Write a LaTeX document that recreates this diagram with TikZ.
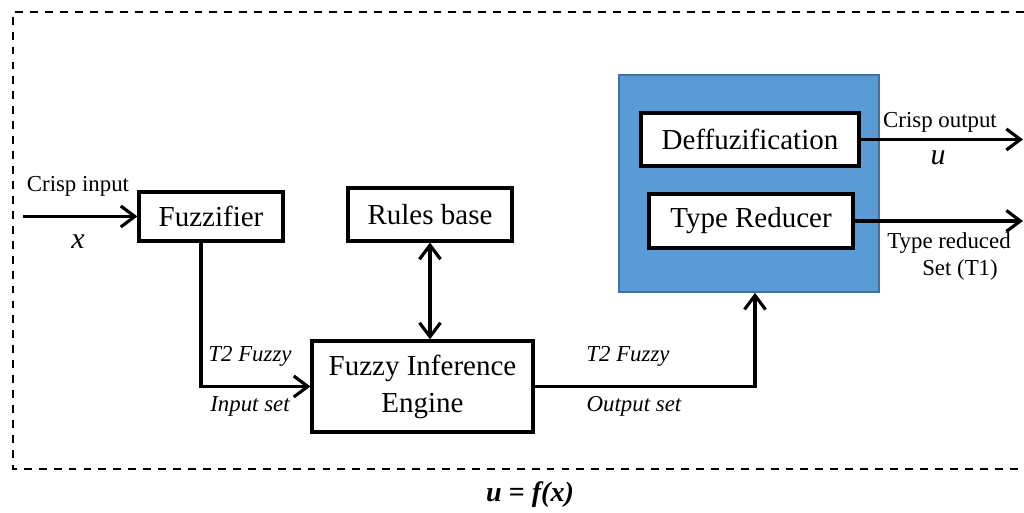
\documentclass[tikz,border=0pt]{standalone}
\usepackage{fontspec}
\setmainfont{Liberation Serif}
\usepackage{tikz}
\usepackage{color}
\usetikzlibrary{arrows.meta}

\begin{document}
\begin{tikzpicture}[
  blk/.style={draw=black,fill=white,line width=1.8pt,minimum width=#1,inner sep=2pt,
    font=\fontsize{16.5}{19}\selectfont,align=center},
  lbl/.style={font=\fontsize{13}{15}\selectfont,inner sep=0pt},
  ilbl/.style={font=\fontsize{13}{15}\selectfont\itshape,inner sep=0pt},
  var/.style={font=\fontsize{17}{19}\selectfont\itshape,inner sep=0pt},
  barb/.tip={Straight Barb[length=2.8mm,width=4.2mm,line width=1.8pt]},
  conn/.style={line width=1.8pt,-barb},
  dconn/.style={line width=1.8pt,barb-barb},
]
\definecolor{cblue}{rgb}{0.357,0.608,0.835}
\definecolor{cbluedraw}{rgb}{0.255,0.443,0.612}
%
\useasboundingbox (0,0) rectangle (20.48,10.26);
\draw[line width=1.1pt,dash pattern=on 4.5pt off 4pt] (20.48,10.02) -- (0.26,10.02) -- (0.26,0.88) -- (20.48,0.88);
%
\node[draw=cbluedraw,fill=cblue,line width=1pt,minimum width=5.2cm,minimum height=4.34cm] (blue) at (14.98,6.59) {};
\node[blk=2.88cm,minimum height=0.98cm] (fuzz) at (4.22,5.93) {Fuzzifier};
\node[blk=3.28cm,minimum height=1.06cm] (rules) at (8.60,5.97) {Rules base};
\node[blk=4.42cm,minimum height=1.82cm] (fie) at (8.45,2.53) {Fuzzy Inference\\[2pt]Engine};
\node[blk=4.36cm,minimum height=1.06cm] (deff) at (15.00,7.47) {Deffuzification};
\node[blk=4.08cm,minimum height=1.08cm] (tr) at (15.02,5.84) {Type Reducer};
%
\coordinate (in) at (0.46,5.93);
\coordinate (out1) at (20.46,7.47);
\coordinate (out2) at (20.46,5.84);
%
\draw[conn] (in) -- (fuzz);
\draw[conn] ([xshift=-0.2cm]fuzz.south) |- (fie.west);
\draw[dconn] (rules.south) -- (rules.south |- fie.north);
\draw[conn] (fie.east) -| ([xshift=0.12cm]blue.south);
\draw[conn] (deff) -- (out1);
\draw[conn] (tr) -- (out2);
%
\node[lbl] (l1) at (1.56,6.54) {Crisp input};
\node[var] (l2) at (1.56,5.42) {x};
\node[ilbl] (l3) at (5.00,3.14) {T2 Fuzzy};
\node[ilbl] (l4) at (5.00,2.14) {Input set};
\node[ilbl] (l5) at (12.56,3.14) {T2 Fuzzy};
\node[ilbl] (l6) at (12.68,2.14) {Output set};
\node[lbl] (l7) at (18.80,7.82) {Crisp output};
\node[var] (l8) at (18.76,7.10) {u};
\node[lbl] (l9) at (18.98,5.40) {Type reduced};
\node[lbl] (l10) at (19.20,4.86) {Set (T1)};
\node[font=\fontsize{16}{19}\selectfont\bfseries\itshape,inner sep=0pt] (l11) at (10.60,0.36) {u = f(x)};
%
\end{tikzpicture}
\end{document}
